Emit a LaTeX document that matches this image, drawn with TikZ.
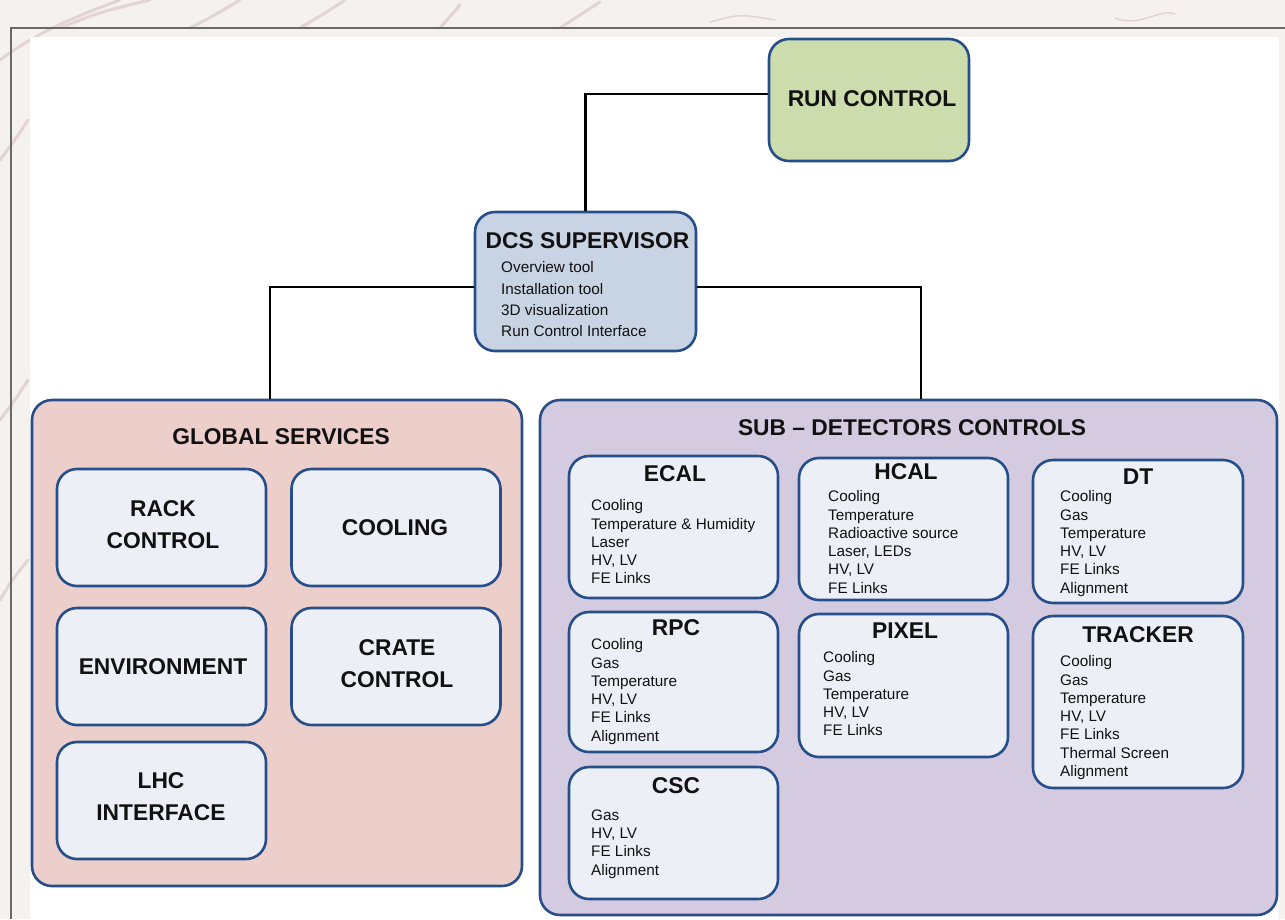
\documentclass[tikz,border=0pt]{standalone}
\usepackage{fontspec}
\setmainfont{Liberation Sans}
\definecolor{edge}{RGB}{38,78,138}
\definecolor{runfill}{RGB}{205,220,172}
\definecolor{dcsfill}{RGB}{200,212,228}
\definecolor{gsfill}{RGB}{236,206,202}
\definecolor{subfill}{RGB}{212,203,224}
\definecolor{cardfill}{RGB}{236,240,246}
\definecolor{paper}{RGB}{244,241,238}
\definecolor{sketch}{RGB}{222,205,205}
\definecolor{frameline}{RGB}{105,105,105}
\definecolor{ink}{RGB}{17,17,17}
\tikzset{
  panel/.style={draw=edge, line width=2.6pt, rounded corners=20pt, inner sep=0pt},
  card/.style={panel, fill=cardfill},
  head/.style={inner sep=0pt, text=ink, font=\fontsize{22.8}{32}\selectfont\bfseries, align=center},
  items/.style={inner sep=0pt, text=ink, anchor=north west, align=left,
                font=\fontsize{15.3}{18.3}\selectfont},
  wire/.style={draw=black, line width=2.6pt}
}
\begin{document}
\begin{tikzpicture}[x=1pt,y=-1pt]
% page background, frame and white sheet
\fill[paper] (0,0) rectangle (1285,919);
\useasboundingbox (0,0) rectangle (1285,919);
\begin{scope}[draw=sketch, line width=3pt, line cap=round, opacity=0.8]
  \draw (0,60) .. controls (40,30) and (80,15) .. (120,0);
  \draw (60,28) .. controls (100,12) .. (150,0);
  \draw (190,28) .. controls (215,15) .. (240,0);
  \draw (300,28) .. controls (330,10) .. (345,0);
  \draw (440,28) -- (460,5);
  \draw (560,28) .. controls (580,15) .. (600,2);
  \draw (0,160) .. controls (15,140) .. (28,120);
  \draw (0,420) .. controls (15,400) .. (28,380);
  \draw (0,600) .. controls (12,580) .. (28,560);
  \draw[line width=1.5pt] (1115,18) .. controls (1140,28) and (1160,8) .. (1175,14);
  \draw[line width=1.5pt] (710,22) .. controls (740,14) .. (775,20);
\end{scope}
\draw[frameline, line width=1.4pt] (1285,28) -- (11,28) -- (11,919);
\fill[white] (30,37) rectangle (1279,919);

% top level
\node[panel, fill=runfill, minimum width=200pt, minimum height=122pt] (rc) at (869,100) {};
\node[head] (rct) at (872,99) {RUN CONTROL};

\node[panel, fill=dcsfill, minimum width=221pt, minimum height=139pt] (dcs) at (585.5,281.5) {};
\node[head] (dcst) at (587.5,241) {DCS SUPERVISOR};
\node[items, font=\fontsize{15.3}{21.3}\selectfont] (dcsl) at (501,261.5)
  {Overview tool\\Installation tool\\3D visualization\\Run Control Interface};

% the two service groups
\node[panel, fill=gsfill, minimum width=490pt, minimum height=486pt] (gs) at (277,643) {};
\node[head] (gst) at (281,437) {GLOBAL SERVICES};

\node[panel, fill=subfill, minimum width=737pt, minimum height=515pt] (sd) at (908.5,657.5) {};
\node[head] (sdt) at (912,428) {SUB -- DETECTORS CONTROLS};

% connectors
\draw[wire] ([yshift=6pt]rc.west) -| (dcs.north);
\draw[wire] ([yshift=-5.5pt]dcs.west) -| ([xshift=-7pt]gs.north);
\draw[wire] ([yshift=-5.5pt]dcs.east) -| ([xshift=12.5pt]sd.north);

% global services
\node[card, minimum width=209pt, minimum height=117pt] (rack) at (161.5,527.5) {};
\node[head] (rackt) at (163,525) {RACK\\CONTROL};
\node[card, minimum width=209pt, minimum height=117pt] (cool) at (396,527.5) {};
\node[head] (coolt) at (395,528) {COOLING};
\node[card, minimum width=209pt, minimum height=117pt] (env) at (161.5,666.5) {};
\node[head] (envt) at (163,667) {ENVIRONMENT};
\node[card, minimum width=209pt, minimum height=117pt] (crate) at (396,666.5) {};
\node[head] (cratet) at (397,664) {CRATE\\CONTROL};
\node[card, minimum width=209pt, minimum height=117pt] (lhc) at (161.5,800.5) {};
\node[head] (lhct) at (161,797) {LHC\\INTERFACE};

% sub-detectors
\node[card, minimum width=209pt, minimum height=142pt] (ecal) at (673.5,527) {};
\node[head] (ecalt) at (675,474) {ECAL};
\node[items] (ecall) at (591,499.5)
  {Cooling\\Temperature \& Humidity\\Laser\\HV, LV\\FE Links};

\node[card, minimum width=209pt, minimum height=142pt] (hcal) at (903.5,529) {};
\node[head] (hcalt) at (906,472) {HCAL};
\node[items] (hcall) at (828,490.5)
  {Cooling\\Temperature\\Radioactive source\\Laser, LEDs\\HV, LV\\FE Links};

\node[card, minimum width=210pt, minimum height=143pt] (dt) at (1138,531.5) {};
\node[head] (dtt) at (1138,477) {DT};
\node[items] (dtl) at (1060,490.5)
  {Cooling\\Gas\\Temperature\\HV, LV\\FE Links\\Alignment};

\node[card, minimum width=209pt, minimum height=140pt] (rpc) at (673.5,682) {};
\node[head] (rpct) at (676,628) {RPC};
\node[items] (rpcl) at (591,638.5)
  {Cooling\\Gas\\Temperature\\HV, LV\\FE Links\\Alignment};

\node[card, minimum width=209pt, minimum height=143pt] (pixel) at (903.5,685.5) {};
\node[head] (pixelt) at (905,631) {PIXEL};
\node[items] (pixell) at (823,651.5)
  {Cooling\\Gas\\Temperature\\HV, LV\\FE Links};

\node[card, minimum width=210pt, minimum height=172pt] (trk) at (1138,702) {};
\node[head] (trkt) at (1138,635) {TRACKER};
\node[items] (trkl) at (1060,655.5)
  {Cooling\\Gas\\Temperature\\HV, LV\\FE Links\\Thermal Screen\\Alignment};

\node[card, minimum width=209pt, minimum height=132pt] (csc) at (673.5,833) {};
\node[head] (csct) at (676,786) {CSC};
\node[items] (cscl) at (591,809.5)
  {Gas\\HV, LV\\FE Links\\Alignment};
\end{tikzpicture}
\end{document}
